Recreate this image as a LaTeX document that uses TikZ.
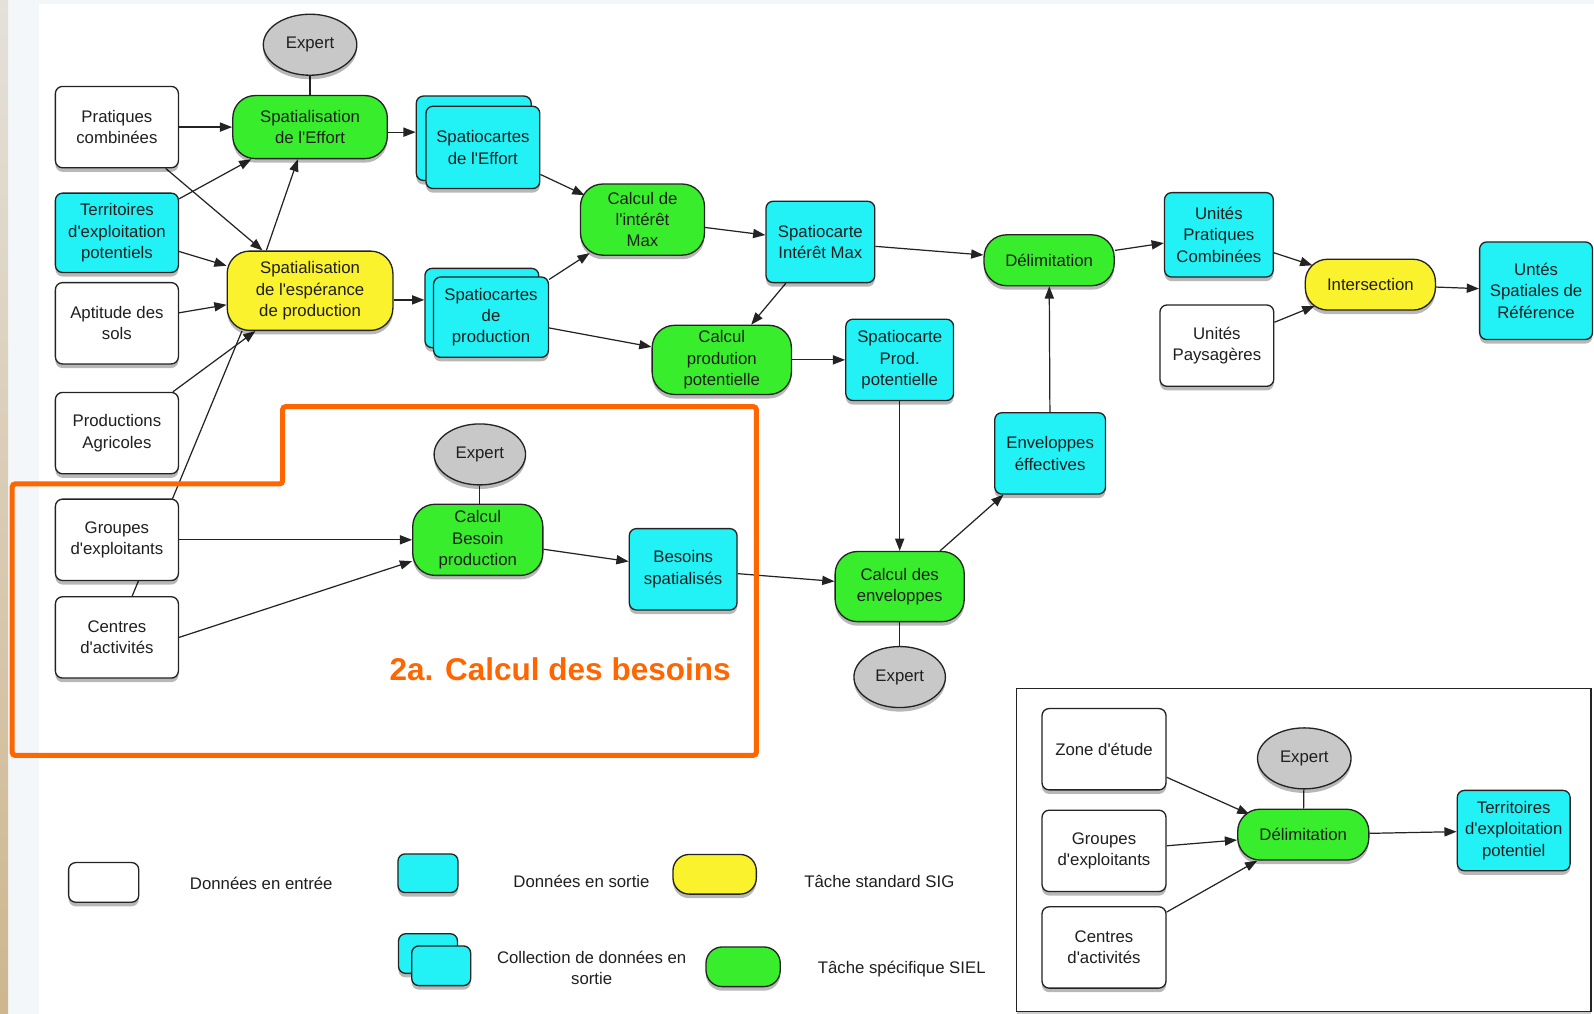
\documentclass[tikz,border=0pt]{standalone}
\usepackage{fontspec}
\setmainfont{Liberation Sans}[Ligatures=TeXOff]
\usetikzlibrary{arrows.meta,shapes.geometric,shadows}

\definecolor{taskgreen}{RGB}{56,238,44}
\definecolor{datacyan}{RGB}{34,242,246}
\definecolor{gisyellow}{RGB}{250,242,44}
\definecolor{expertgray}{RGB}{200,200,200}
\definecolor{frameorange}{RGB}{255,102,0}
\definecolor{edgegray}{RGB}{35,35,35}
\definecolor{paneltint}{RGB}{244,247,250}
\definecolor{sandlight}{RGB}{228,225,218}
\definecolor{sanddark}{RGB}{206,182,142}

\pgfdeclarelayer{page}
\pgfdeclarelayer{bg}
\pgfsetlayers{page,bg,main}

\tikzset{
  shapebase/.style={draw=edgegray, line width=1.3pt, align=center, inner sep=2pt,
    text=black!88, font=\fontsize{16.5}{21}\selectfont,
    drop shadow={shadow xshift=0pt, shadow yshift=-4pt, opacity=0.28, fill=black}},
  inputbox/.style={shapebase, rectangle, rounded corners=7pt, fill=white,
    minimum width=121pt, minimum height=80pt},
  outputbox/.style={shapebase, rectangle, rounded corners=7pt, fill=datacyan},
  sieltask/.style={shapebase, rectangle, rounded corners=22pt, fill=taskgreen},
  sigtask/.style={shapebase, rectangle, rounded corners=22pt, fill=gisyellow},
  expertnode/.style={shapebase, ellipse, fill=expertgray, minimum width=90pt,
    minimum height=60pt, inner sep=0pt},
  flow/.style={draw=edgegray, line width=1.2pt, -{Triangle[length=12pt,width=9pt]}},
  link/.style={draw=edgegray, line width=1.2pt},
  legendtext/.style={font=\fontsize{16.5}{21}\selectfont, align=center, text=black!88},
}

\begin{document}
\begin{tikzpicture}[x=1pt,y=-1pt]
\useasboundingbox (0,0) rectangle (1568,997);

% page background with the tinted left margin
\begin{pgfonlayer}{page}
\fill[white] (0,0) rectangle (1568,997);
\fill[paneltint] (0,0) rectangle (38,997);
\fill[paneltint] (0,0) rectangle (1568,4);
\shade[top color=sandlight, bottom color=sanddark] (0,0) rectangle (8,997);
\end{pgfonlayer}

% ---------- main chain ----------
\node[expertnode, minimum width=92pt] (E1) at (305,44) {Expert};
\node[inputbox] (PC) at (115,125) {Pratiques\\combinées};
\node[outputbox, minimum width=121pt, minimum height=78pt] (TE) at (115,229) {Territoires\\d'exploitation\\potentiels};
\node[inputbox] (AS) at (115,318) {Aptitude des\\sols};
\node[inputbox] (PA) at (115,426) {Productions\\Agricoles};
\node[inputbox] (GE) at (115,531) {Groupes\\d'exploitants};
\node[inputbox] (CA) at (115,627) {Centres\\d'activités};

\node[sieltask, minimum width=152pt, minimum height=62pt] (SE) at (305,125) {Spatialisation\\de l'Effort};
\node[sigtask, minimum width=163pt, minimum height=78pt] (SP) at (305,286) {Spatialisation\\de l'espérance\\de production};

\node[outputbox, minimum width=113pt, minimum height=83pt] (CEb) at (466,136) {};
\node[outputbox, minimum width=112pt, minimum height=81pt] (CE) at (475,145) {Spatiocartes\\de l'Effort};
\node[outputbox, minimum width=112pt, minimum height=78pt] (CPb) at (474,303) {};
\node[outputbox, minimum width=113pt, minimum height=79pt] (CP) at (483,312) {Spatiocartes\\de\\production};

\node[sieltask, minimum width=122pt, minimum height=70pt] (CI) at (632,216) {Calcul de\\l'intérêt\\Max};
\node[outputbox, minimum width=107pt, minimum height=80pt] (SI) at (807,238) {Spatiocarte\\Intérêt Max};
\node[sieltask, minimum width=137pt, minimum height=68pt] (CPP) at (710,354) {Calcul\\prodution\\potentielle};
\node[outputbox, minimum width=106pt, minimum height=80pt] (SPP) at (885,354) {Spatiocarte\\Prod.\\potentielle};

\node[sieltask, minimum width=128pt, minimum height=50pt] (DL) at (1032,256) {Délimitation};
\node[outputbox, minimum width=107pt, minimum height=83pt] (UPC) at (1199,231) {Unités\\Pratiques\\Combinées};
\node[inputbox, minimum width=112pt] (UP) at (1197,340) {Unités\\Paysagères};
\node[sigtask, minimum width=128pt, minimum height=50pt] (IN) at (1348,280) {Intersection};
\node[outputbox, minimum width=111pt, minimum height=96pt] (USR) at (1511,286) {Untés\\Spatiales de\\Référence};
\node[outputbox, minimum width=109pt, minimum height=80pt] (EE) at (1033,446) {Enveloppes\\éffectives};

\node[expertnode] (E2) at (472,447) {Expert};
\node[sieltask, minimum width=128pt, minimum height=70pt] (CB) at (470,531) {Calcul\\Besoin\\production};
\node[outputbox, minimum width=106pt, minimum height=80pt] (BS) at (672,560) {Besoins\\spatialisés};
\node[sieltask, minimum width=127pt, minimum height=69pt] (CEV) at (885,577) {Calcul des\\enveloppes};
\node[expertnode] (E3) at (885,666) {Expert};

% ---------- inset: delimitation of the territories ----------
\begin{pgfonlayer}{page}
\node[draw=edgegray, line width=1.4pt, fill=white, minimum width=565pt, minimum height=318pt,
  drop shadow={shadow xshift=0pt, shadow yshift=-3pt, opacity=0.2, fill=black}] (Inset) at (1282.5,836) {};
\end{pgfonlayer}
\node[inputbox, minimum width=122pt] (ZE) at (1086,737) {Zone d'étude};
\node[inputbox, minimum width=122pt] (GE2) at (1086,837) {Groupes\\d'exploitants};
\node[inputbox, minimum width=122pt] (CA2) at (1086,932) {Centres\\d'activités};
\node[expertnode, minimum width=92pt] (E4) at (1283,746) {Expert};
\node[sieltask, minimum width=129pt, minimum height=50pt] (DL2) at (1282,821) {Délimitation};
\node[outputbox, minimum width=111pt, minimum height=79pt] (TEP) at (1489,817) {Territoires\\d'exploitation\\potentiel};

% ---------- legend ----------
\node[inputbox, minimum width=69pt, minimum height=39pt] (LIn) at (102,868) {};
\node[legendtext] (LInT) at (257,869) {Données en entrée};
\node[outputbox, minimum width=59pt, minimum height=38pt] (LOut) at (421,859) {};
\node[legendtext] (LOutT) at (572,867) {Données en sortie};
\node[sigtask, rounded corners=16pt, minimum width=82pt, minimum height=39pt] (LSig) at (703,860) {};
\node[legendtext] (LSigT) at (865,867) {Tâche standard SIG};
\node[outputbox, minimum width=58pt, minimum height=39pt] (LColB) at (421,938) {};
\node[outputbox, minimum width=58pt, minimum height=39pt] (LCol) at (434,950) {};
\node[legendtext] (LColT) at (582,952) {Collection de données en\\sortie};
\node[sieltask, rounded corners=16pt, minimum width=73pt, minimum height=39pt] (LSiel) at (731,951) {};
\node[legendtext] (LSielT) at (887,953) {Tâche spécifique SIEL};

% ---------- connectors ----------
\begin{pgfonlayer}{bg}
\draw[link] (E1) -- (SE);
\draw[flow] (PC) -- (SE);
\draw[flow] (PC) -- (SP);
\draw[flow] (TE) -- (SE);
\draw[flow] (TE) -- (SP);
\draw[flow] (AS) -- (SP);
\draw[flow] (PA) -- (SP);
\draw[link] ([xshift=15pt]CA.north) -- ([xshift=-67pt]SP.south);
\draw[flow] ([xshift=-43pt]SP.north) -- ([xshift=-12pt]SE.south);
\draw[flow] ([yshift=-5pt]SE.east) -- ([yshift=-5pt]SE.east -| CEb.west);
\draw[flow] ([yshift=-9pt]SP.east) -- ([yshift=-9pt]SP.east -| CPb.west);
\draw[flow] (CE) -- ([xshift=-57pt,yshift=24pt]CI.center);
\draw[flow] (CP) -- ([xshift=-52pt,yshift=-33pt]CI.center);
\draw[flow] (CP) -- (CPP);
\draw[flow] (CI) -- (SI);
\draw[flow] (SI) -- (CPP);
\draw[flow] (SI) -- (DL);
\draw[flow] (CPP) -- (SPP);
\draw[flow] (SPP) -- (CEV);
\draw[flow] (EE) -- (DL);
\draw[flow] (CEV) -- (EE);
\draw[link] (E3) -- (CEV);
\draw[flow] (DL) -- (UPC);
\draw[flow] (UPC) -- ([xshift=-57pt,yshift=19pt]IN.center);
\draw[flow] (UP) -- ([xshift=-55pt,yshift=-21pt]IN.center);
\draw[flow] (IN) -- (USR);
\draw[link] (E2.south) -- (E2.south |- CB.north);
\draw[flow] (GE) -- (CB);
\draw[flow] (CA.east) -- (CB.198);
\draw[flow] (CB) -- (BS);
\draw[flow] (BS) -- (CEV);
% inset
\draw[flow] (ZE) -- ([xshift=-53pt,yshift=20pt]DL2.center);
\draw[flow] (GE2) -- (DL2);
\draw[flow] (CA2) -- (DL2);
\draw[link] (E4) -- (DL2);
\draw[flow] (DL2) -- (TEP);
\end{pgfonlayer}

% ---------- highlighted sub-process ----------
\draw[frameorange, line width=5pt, rounded corners=3pt]
  (12,476) -- (278,476) -- (278,400) -- (744,400) -- (744,743) -- (12,743) -- cycle;
\node[text=frameorange, font=\bfseries\fontsize{31}{36}\selectfont] (Title) at (551,658) {2a. Calcul des besoins};

\end{tikzpicture}
\end{document}
